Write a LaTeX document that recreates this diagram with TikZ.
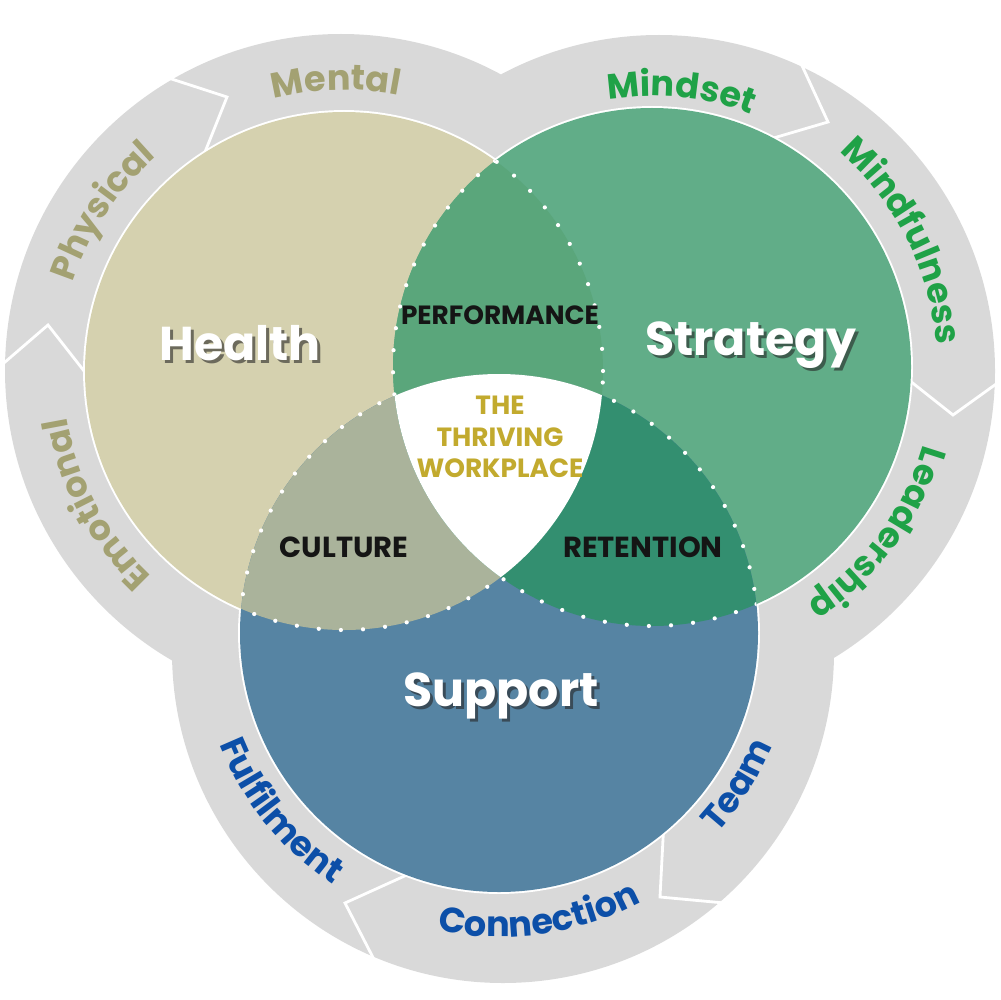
\documentclass[tikz,border=0pt]{standalone}
\usepackage{fontspec}
\setmainfont{Poppins}
\usetikzlibrary{calc,decorations.text}
\definecolor{ringgray}{HTML}{D9D9D9}
\definecolor{healthfill}{HTML}{D5D1AF}
\definecolor{strategyfill}{HTML}{61AD88}
\definecolor{supportfill}{HTML}{5684A3}
\definecolor{perffill}{HTML}{5AA67B}
\definecolor{culturefill}{HTML}{AAB39B}
\definecolor{retentionfill}{HTML}{338F70}
\definecolor{healthtext}{HTML}{A3A172}
\definecolor{strategytext}{HTML}{1FA247}
\definecolor{supporttext}{HTML}{0C4FA8}
\definecolor{thrivegold}{HTML}{C2AA2E}
\definecolor{tagtext}{HTML}{151515}
\newcommand{\bigfont}{\fontsize{27}{32}\selectfont\bfseries}
\newcommand{\tagfont}{\fontsize{15}{18}\selectfont\bfseries}
\newcommand{\bigtagfont}{\fontsize{16.5}{20}\selectfont\bfseries}
\newcommand{\ringfont}{\fontsize{20}{24}\selectfont\bfseries}
\begin{document}
\begin{tikzpicture}[x=0.02cm,y=0.02cm,
  chevron/.style={draw=white,line width=1.6pt,line join=miter},
  halo/.style={draw=white,line width=2.2pt},
  dotline/.style={draw=white,line width=2.4pt,line cap=round,dash pattern=on 0pt off 12.6pt},
  bigname/.style={font=\bigfont,text=white,inner sep=0pt},
  bigshadow/.style={font=\bigfont,text=black!85,opacity=0.6,inner sep=0pt},
  tagname/.style={font=\tagfont,text=tagtext,inner sep=0pt},
  ringtext/.style 2 args={decorate,decoration={text along path,text align=center,text={|\ringfont\color{#1}|#2}}}]
\useasboundingbox (0,0) rectangle (1000,-1000);
\coordinate (H) at (344,-371);
\coordinate (S) at (652,-367);
\coordinate (U) at (499,-633);
\coordinate (Ho) at (341,-370);
\coordinate (So) at (659,-371);
\coordinate (Uo) at (503,-652);
\fill[ringgray] (Ho) circle[radius=336] (So) circle[radius=336] (Uo) circle[radius=331];
\draw[chevron] (150,-72) -- (227,-97) -- (201,-162);
\draw[chevron] (-10,-375) -- (48,-325) -- (95,-385);
\draw[chevron] (798,-57) -- (828,-122) -- (760,-142);
\draw[chevron] (900,-373) -- (953,-415) -- (1010,-374);
\draw[chevron] (664,-820) -- (660,-897) -- (735,-904);
\draw[chevron] (420,-869) -- (345,-903) -- (381,-973);
\draw[halo] (H) circle[radius=259] (S) circle[radius=259] (U) circle[radius=259];
\fill[healthfill] (H) circle[radius=259];
\fill[strategyfill] (S) circle[radius=259];
\fill[supportfill] (U) circle[radius=259];
\begin{scope}
  \clip (H) circle[radius=259];
  \fill[perffill] (S) circle[radius=259];
  \fill[culturefill] (U) circle[radius=259];
\end{scope}
\begin{scope}
  \clip (S) circle[radius=259];
  \fill[retentionfill] (U) circle[radius=259];
  \clip (U) circle[radius=259];
  \fill[white] (H) circle[radius=259];
\end{scope}
\begin{scope}[even odd rule]
  \clip (S) circle[radius=259] (U) circle[radius=259];
  \draw[dotline] (H) circle[radius=259];
\end{scope}
\begin{scope}[even odd rule]
  \clip (H) circle[radius=259] (U) circle[radius=259];
  \draw[dotline] (S) circle[radius=259];
\end{scope}
\begin{scope}[even odd rule]
  \clip (H) circle[radius=259] (S) circle[radius=259];
  \draw[dotline] (U) circle[radius=259];
\end{scope}
\path[ringtext={healthtext}{Mental}] ($(H)+(141.6:281)$) arc[start angle=141.6,end angle=41.6,radius=281];
\path[ringtext={healthtext}{Physical}] ($(H)+(196.5:285)$) arc[start angle=196.5,end angle=96.5,radius=285];
\path[ringtext={healthtext}{Emotional}] ($(H)+(258.2:281)$) arc[start angle=258.2,end angle=158.2,radius=281];
\path[ringtext={strategytext}{Mindset}] ($(S)+(133.9:271)$) arc[start angle=133.9,end angle=33.9,radius=271];
\path[ringtext={strategytext}{Mindfulness}] ($(S)+(86.7:285)$) arc[start angle=86.7,end angle=-33.3,radius=285];
\path[ringtext={strategytext}{Leadership}] ($(S)+(23.6:282)$) arc[start angle=23.6,end angle=-96.4,radius=282];
\path[ringtext={supporttext}{Fulfilment}] ($(U)+(159.1:301)$) arc[start angle=159.1,end angle=279.1,radius=301];
\path[ringtext={supporttext}{Connection}] ($(U)+(218.1:304)$) arc[start angle=218.1,end angle=338.1,radius=304];
\path[ringtext={supporttext}{Team}] ($(U)+(-82.5:296)$) arc[start angle=-82.5,end angle=17.5,radius=296];
\node[bigshadow] (healthshadow) at (243,-346) {Health};
\node[bigname] (health) at (240,-343) {Health};
\node[bigshadow] (strategyshadow) at (754,-348) {Strategy};
\node[bigname] (strategy) at (751,-345) {Strategy};
\node[bigshadow] (supportshadow) at (504,-699) {Support};
\node[bigname] (support) at (501,-696) {Support};
\node[tagname] (performance) at (500,-315) {PERFORMANCE};
\node[tagname,font=\bigtagfont] (culture) at (344,-547) {CULTURE};
\node[tagname,font=\bigtagfont] (retention) at (643,-547) {RETENTION};
\node[font=\tagfont,text=thrivegold,align=center,inner sep=0pt] (core) at (500,-437) {THE\\THRIVING\\WORKPLACE};
\end{tikzpicture}
\end{document}
